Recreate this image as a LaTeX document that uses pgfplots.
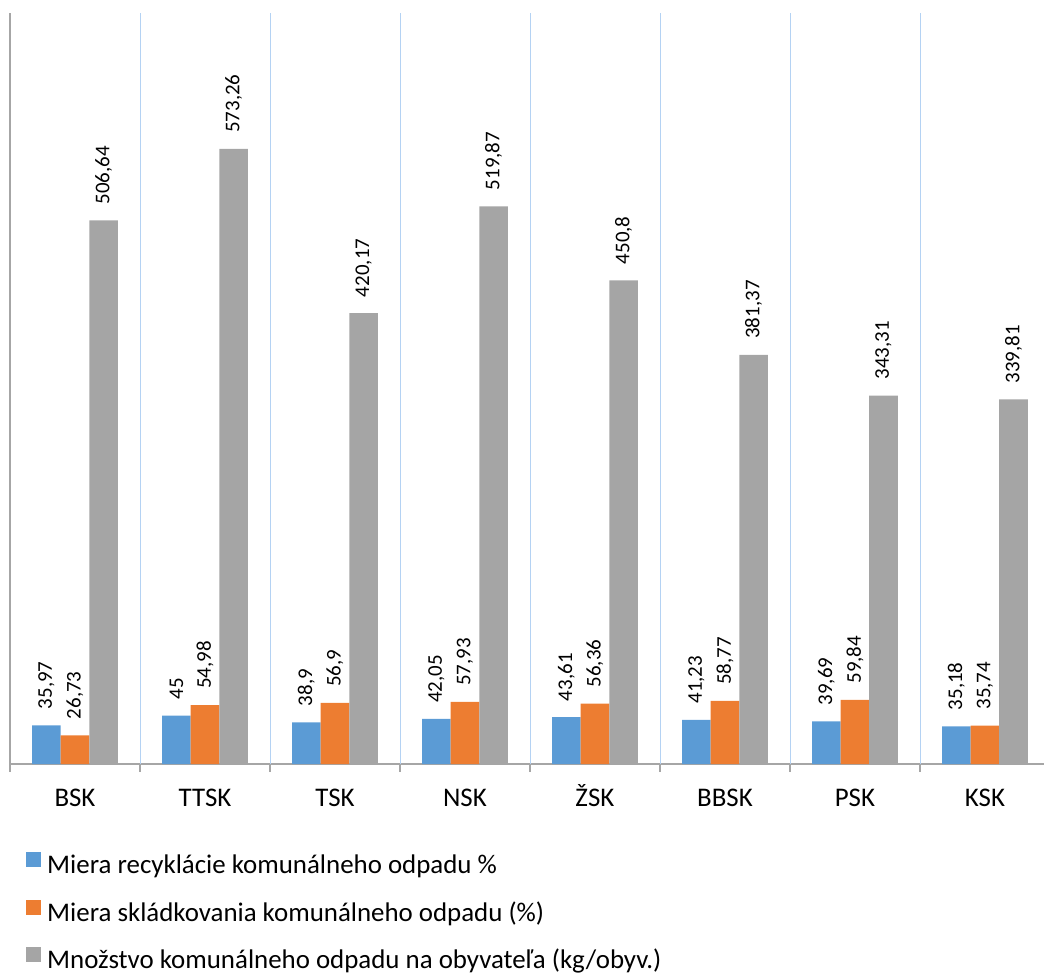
\documentclass[border=0pt]{standalone}
\usepackage{fontspec}
\setmainfont{Carlito}
\usepackage{pgfplots}
\pgfplotsset{compat=1.18}
\definecolor{sBlue}{HTML}{5B9BD5}
\definecolor{sOrange}{HTML}{ED7D31}
\definecolor{sGray}{HTML}{A5A5A5}
\definecolor{gridBlue}{HTML}{B4D2F3}
\definecolor{axGray}{HTML}{A6A6A6}

\begin{document}
\begin{tikzpicture}
\begin{axis}[
  scale only axis,
  width=1040bp, height=751bp,
  xmin=-0.5, xmax=7.5, ymin=0, ymax=700,
  axis x line*=bottom, axis y line*=left,
  axis line style={axGray, line width=1.2bp, -},
  ytick=\empty,
  xtick={0,...,7},
  xticklabels={BSK,TTSK,TSK,NSK,ŽSK,BBSK,PSK,KSK},
  major tick length=0pt,
  minor xtick={-0.5,0.5,...,7.5},
  minor tick length=8bp,
  tick align=outside,
  minor x tick style={axGray, line width=1.2bp},
  xticklabel style={font=\fontsize{27}{32}\selectfont, anchor=north,
    inner sep=0pt, text height=18bp, text depth=6bp, yshift=-24bp},
  ybar=0pt, bar width=0.22,
  /pgf/number format/use comma,
  /pgf/number format/1000 sep={},
  /pgf/number format/assume math mode=true,
  nodes near coords,
  nodes near coords style={rotate=90, anchor=west, black,
    font=\fontsize{21}{25}\selectfont, inner xsep=16bp, inner ysep=0pt},
  legend style={at={(axis description cs:0,0)}, anchor=north west,
    xshift=16bp, yshift=-88bp, draw=none, fill=none, inner sep=0pt,
    row sep=21bp, font=\fontsize{27}{32}\selectfont,
    nodes={inner sep=0pt, text height=18bp, text depth=5bp},
    /tikz/every odd column/.append style={column sep=6bp}},
  legend cell align=left,
  legend image code/.code={\fill[#1] (0bp,0bp) rectangle (15bp,15bp);},
]
% separators between the regions
\pgfplotsinvokeforeach{0.5,1.5,2.5,3.5,4.5,5.5,6.5}{
  \draw[gridBlue, line width=1.1bp, xshift=0.5bp] (axis cs:#1,0) -- (axis cs:#1,700);}
\addplot[fill=sBlue, draw=none] coordinates {
  (0,35.97) (1,45) (2,38.9) (3,42.05) (4,43.61) (5,41.23) (6,39.69) (7,35.18)};
\addplot[fill=sOrange, draw=none] coordinates {
  (0,26.73) (1,54.98) (2,56.9) (3,57.93) (4,56.36) (5,58.77) (6,59.84) (7,35.74)};
\addplot[fill=sGray, draw=none] coordinates {
  (0,506.64) (1,573.26) (2,420.17) (3,519.87) (4,450.8) (5,381.37) (6,343.31) (7,339.81)};
\addlegendentry{Miera recyklácie komunálneho odpadu \%}
\addlegendentry{Miera skládkovania komunálneho odpadu (\%)}
\addlegendentry{Množstvo komunálneho odpadu na obyvateľa (kg/obyv.)}
\coordinate (bl) at (rel axis cs:0,0);
\end{axis}
\pgfresetboundingbox
\path[use as bounding box] ([shift={(-10bp,-212bp)}]bl) rectangle ([shift={(1034bp,764bp)}]bl);
\end{tikzpicture}
\end{document}
